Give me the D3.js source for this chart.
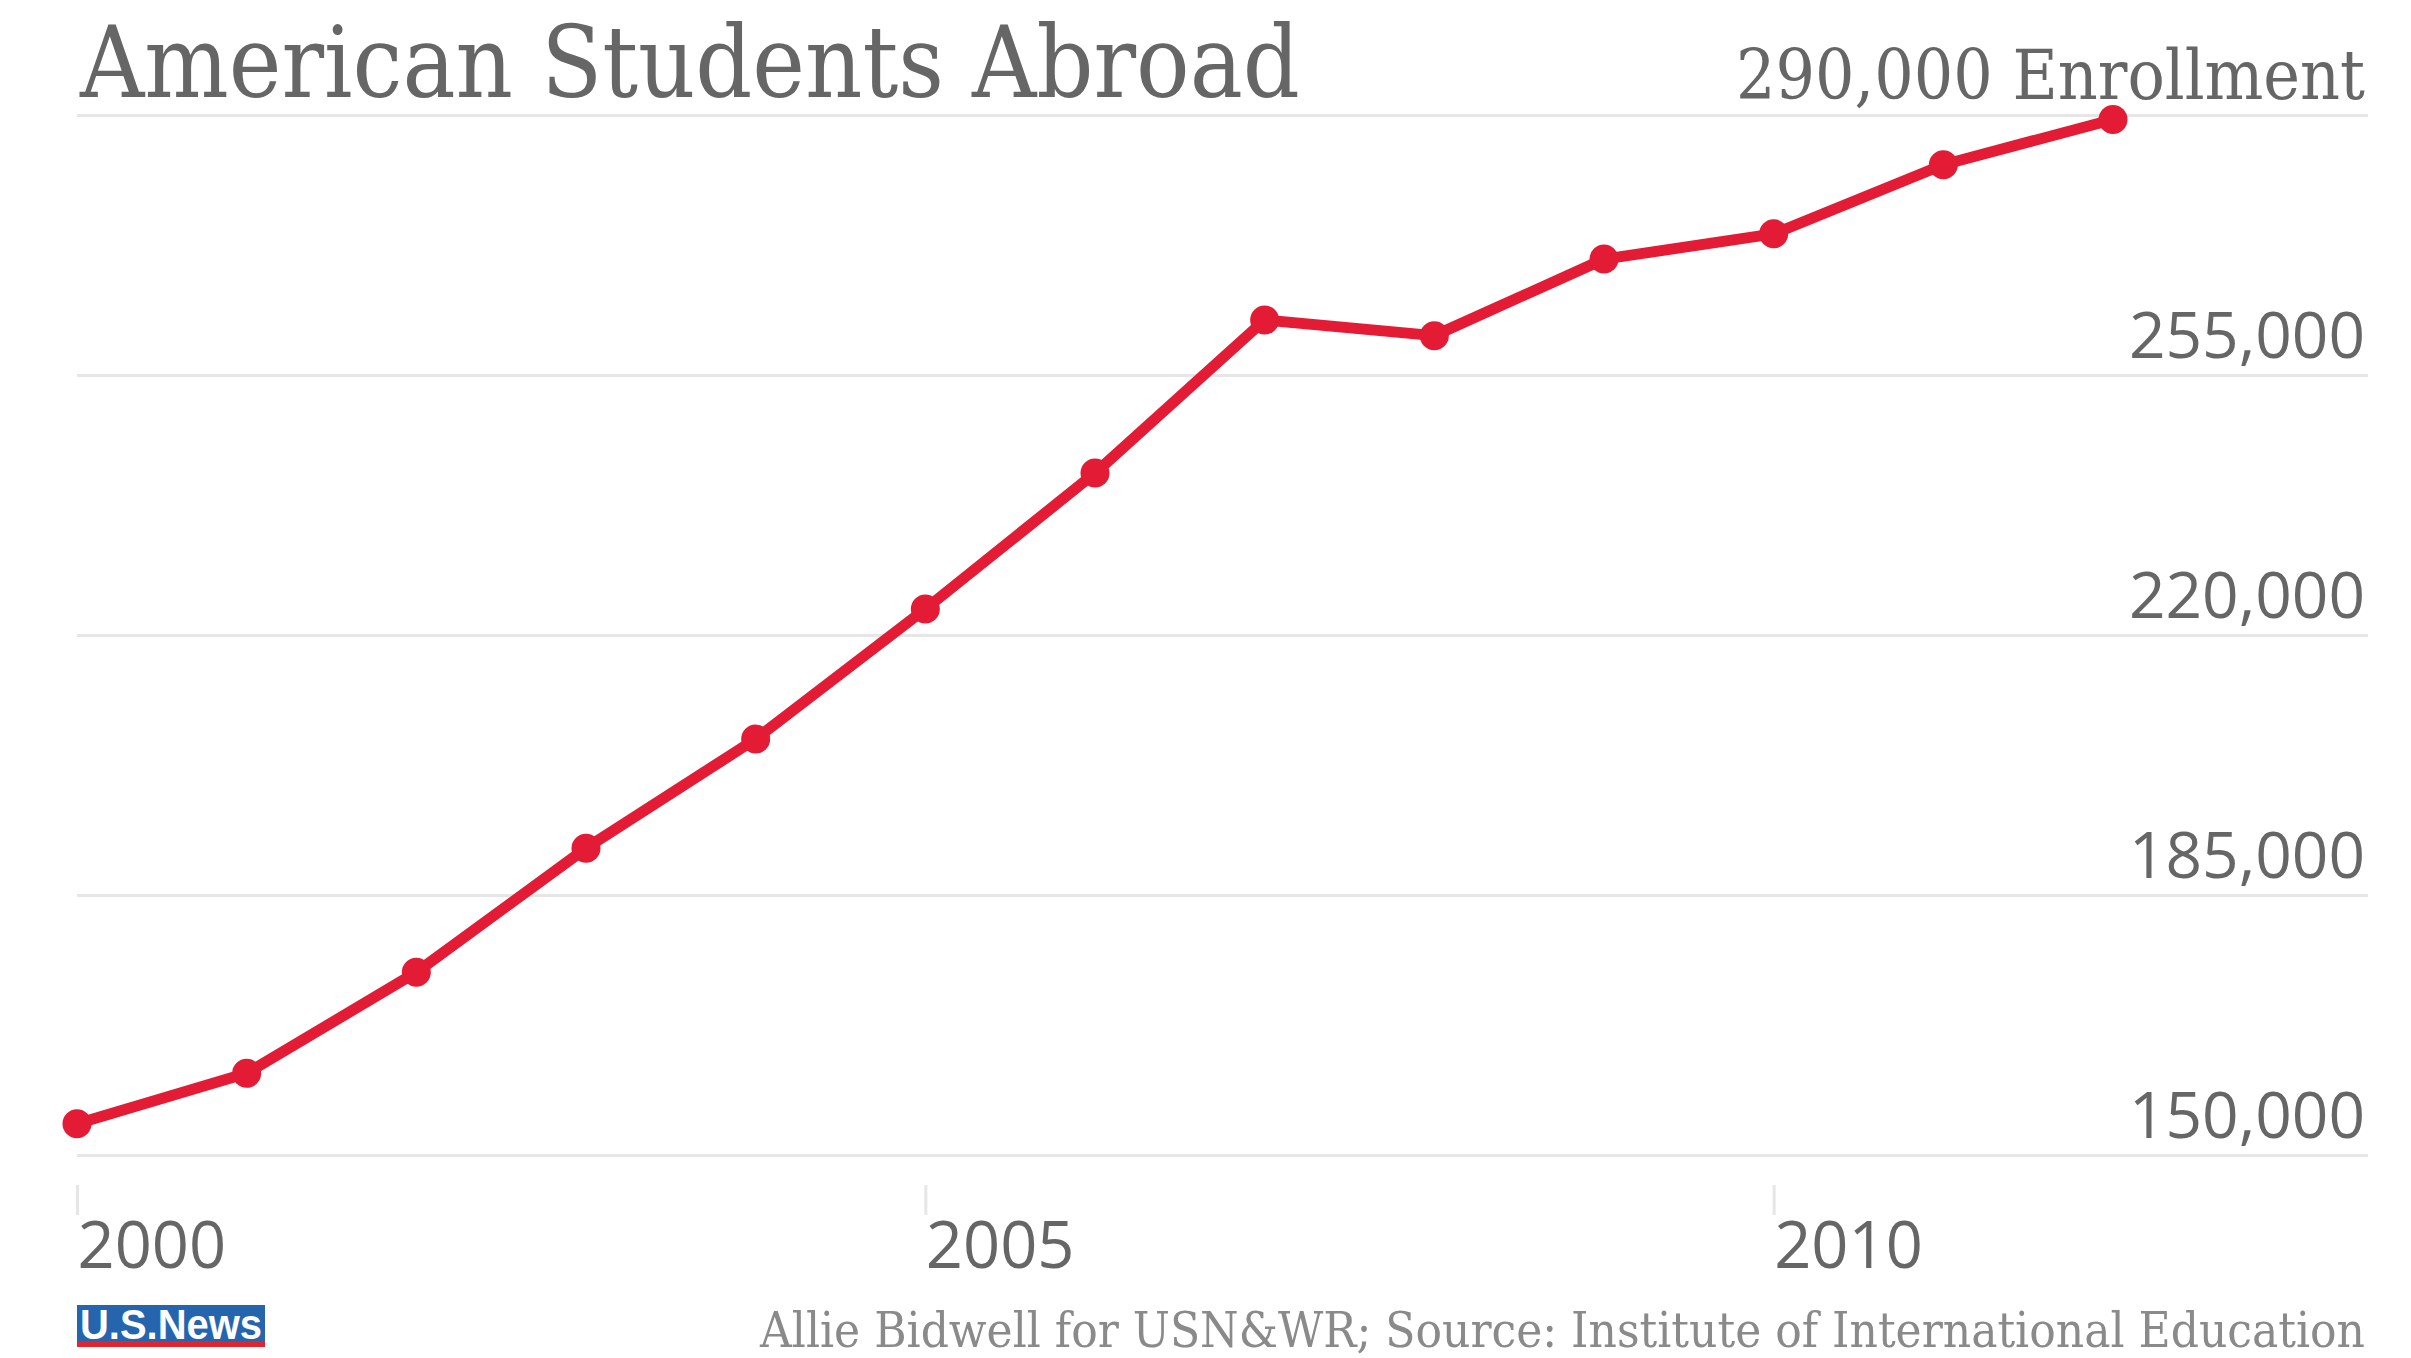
<!DOCTYPE html>
<html>
<head>
<meta charset="utf-8">
<script src="https://cdn.jsdelivr.net/npm/d3@7"></script>
<style>
    body { margin: 0; background: #fff; }
    svg { display: block; }
</style>
</head>
<body>
<div id="chart"></div>
<script>
const width = 2411;
const height = 1358;

// data
const years = [2000, 2001, 2002, 2003, 2004, 2005, 2006, 2007, 2008, 2009, 2010, 2011, 2012];
const enrollment = [154200, 161000, 174600, 191300, 206000, 223500, 241800, 262400, 260300, 270600, 274000, 283300, 289400];
const yTicks = [150000, 185000, 220000, 255000, 290000];
const xTicks = [2000, 2005, 2010];

const title = "American Students Abroad";
const unitLabel = "Enrollment";
const credit = "Allie Bidwell for USN&WR; Source: Institute of International Education";

const red = "#e41b34";
const gray = "#666";
const serif = "'DejaVu Serif Condensed', 'DejaVu Serif', serif";
const sans = "'Open Sans', sans-serif";

const gridLeft = 77;
const gridRight = 2368;

const x = d3.scaleLinear().domain([2000, 2012]).range([77, 2113]);
const y = d3.scaleLinear().domain([150000, 290000]).range([1155, 115]);

const svg = d3.select("#chart").append("svg")
    .attr("width", width)
    .attr("height", height);

// title
svg.append("text")
    .attr("x", 80)
    .attr("y", 97)
    .style("font-family", serif)
    .style("font-size", "99px")
    .style("fill", gray)
    .text(title);

// y axis: gridlines + labels on the right
const yAxis = d3.axisRight(y)
    .tickValues(yTicks)
    .tickSize(-(gridRight - gridLeft))
    .tickFormat(d => d3.format(",")(d));

const gy = svg.append("g")
    .attr("transform", `translate(${gridRight},0)`)
    .call(yAxis);
gy.select(".domain").remove();
gy.selectAll(".tick line")
    .attr("stroke", "#e6e6e6")
    .attr("stroke-width", 3);
gy.selectAll(".tick text")
    .attr("x", -3)
    .attr("dy", "-18px")
    .attr("text-anchor", "end")
    .style("font-family", sans)
    .style("font-size", "64px")
    .style("fill", gray);

// top label gets the unit and the serif face
gy.selectAll(".tick text")
    .filter(d => d === 290000)
    .text(d => d3.format(",")(d) + " " + unitLabel)
    .attr("dy", "-17px")
    .style("font-family", serif)
    .style("font-size", "69px");

// x axis: short ticks, left aligned labels
const xAxis = d3.axisBottom(x)
    .tickValues(xTicks)
    .tickSize(30)
    .tickFormat(d => d);

const gx = svg.append("g")
    .attr("transform", "translate(0,1185)")
    .call(xAxis);
gx.select(".domain").remove();
gx.selectAll(".tick line")
    .attr("stroke", "#e6e6e6")
    .attr("stroke-width", 3);
gx.selectAll(".tick text")
    .attr("x", 0)
    .attr("y", 83)
    .attr("dy", 0)
    .attr("text-anchor", "start")
    .style("font-family", sans)
    .style("font-size", "65px")
    .style("fill", gray);

// the line
const points = years.map((yr, i) => ({ year: yr, value: enrollment[i] }));

const line = d3.line()
    .x(d => x(d.year))
    .y(d => y(d.value));

svg.append("path")
    .datum(points)
    .attr("d", line)
    .style("fill", "none")
    .style("stroke", red)
    .style("stroke-width", 11)
    .style("stroke-linejoin", "round");

svg.append("g")
    .selectAll("circle")
    .data(points)
    .join("circle")
    .attr("cx", d => x(d.year))
    .attr("cy", d => y(d.value))
    .attr("r", 14.5)
    .style("fill", red);

// footer: logo and credit
const logo = svg.append("g").attr("transform", "translate(77,1305)");
logo.append("rect")
    .attr("width", 188)
    .attr("height", 42)
    .style("fill", "#2465ae");
logo.append("rect")
    .attr("y", 36)
    .attr("width", 188)
    .attr("height", 6)
    .style("fill", "#e2242f");
logo.append("text")
    .attr("x", 3)
    .attr("y", 34)
    .attr("textLength", 182)
    .attr("lengthAdjust", "spacingAndGlyphs")
    .style("font-family", "'Liberation Sans Narrow', 'Liberation Sans', sans-serif")
    .style("font-weight", "bold")
    .style("font-size", "42px")
    .style("fill", "#fff")
    .text("U.S.News");

svg.append("text")
    .attr("x", 2365)
    .attr("y", 1347)
    .attr("text-anchor", "end")
    .style("font-family", serif)
    .style("font-size", "49px")
    .style("fill", "#8a8a8a")
    .text(credit);
</script>
</body>
</html>
